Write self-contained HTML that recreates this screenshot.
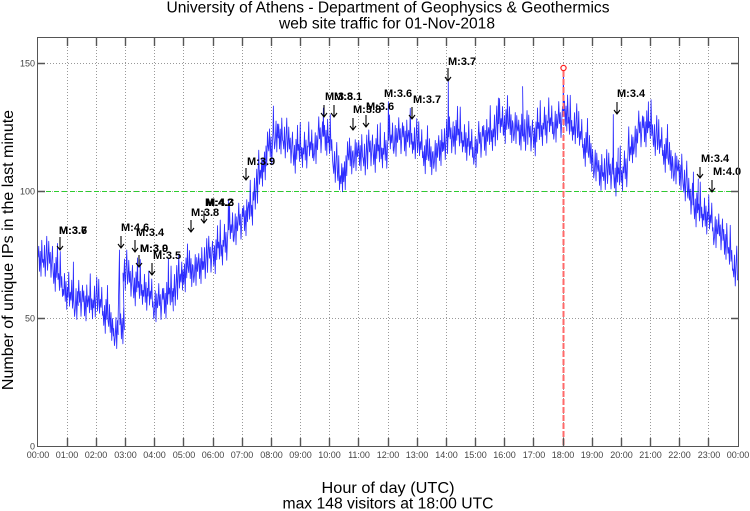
<!DOCTYPE html>
<html><head><meta charset="utf-8">
<style>
html,body{margin:0;padding:0;background:#fff;}
svg{display:block;font-family:"Liberation Sans",Arial,sans-serif;}
</style></head>
<body>
<svg width="750" height="511" viewBox="0 0 750 511" xmlns="http://www.w3.org/2000/svg">
<rect width="750" height="511" fill="#fff"/>

<!-- titles -->
<text x="388" y="12.5" font-size="15.5" text-anchor="middle" textLength="443" lengthAdjust="spacingAndGlyphs" fill="#000">University of Athens - Department of Geophysics &amp; Geothermics</text>
<text x="387" y="28.5" font-size="15.5" text-anchor="middle" textLength="216" lengthAdjust="spacingAndGlyphs" fill="#000">web site traffic for 01-Nov-2018</text>

<!-- grid -->
<g stroke="#999" stroke-width="1" stroke-dasharray="1,2" fill="none">
<path d="M67.5 38V446M96.5 38V446M125.5 38V446M154.5 38V446M183.5 38V446M213.5 38V446M242.5 38V446M271.5 38V446M300.5 38V446M329.5 38V446M358.5 38V446M388.5 38V446M417.5 38V446M446.5 38V446M475.5 38V446M504.5 38V446M533.5 38V446M563.5 38V446M592.5 38V446M621.5 38V446M650.5 38V446M679.5 38V446M708.5 38V446"/>
<path d="M38 63.5H738M38 318.5H738"/>
</g>
<path d="M38 191.5H738" stroke="#aaa" stroke-width="1" stroke-dasharray="1,2" stroke-dashoffset="1" fill="none"/>
<!-- green reference line -->
<path d="M38 191.5H738" stroke="#2ecc2e" stroke-width="1" stroke-dasharray="5,3" fill="none"/>

<!-- data -->
<path fill="none" stroke="#0000ff" stroke-width="0.85" stroke-opacity="0.82" stroke-linejoin="round" d="
M38,257.3 l.75,-11 .75,25 .75,-20 .75,25 .75,-36 .75,22
L43,259.3 l.75,8 .75,-22 .75,31 .75,-20 .75,-20 .75,34
L48,261.3 l.75,-20 .75,22 .75,-11 .75,25 .75,-17 .75,-14
L53,269.4 l.75,14 .75,-20 .75,28 .75,-34 .75,20 .75,-34
L58,279.5 l.75,-6 .75,17 .75,-39 .75,36 .75,-11 .75,20
L63,289.4 l.75,6 .75,-22 .75,28 .75,-20 .75,28 .75,-22
L68,297.2 l.75,-25 .75,34 .75,-14 .75,8 .75,-20 .75,28
L73,299.5 L73.4,262 L73.8,299.5 l.75,17 .75,-8 .75,-20 .75,31 .75,-28 .75,14
L78,300.3 l.75,-20 .75,22 .75,-11 .75,25 .75,-17 .75,-14
L83,301.9 l.75,-11 .75,25 .75,-20 .75,25 .75,-36 .75,22
L88,301.8 l.75,-6 .75,17 .75,-39 .75,36 .75,-11 .75,20
L93,300 l.75,8 .75,-22 .75,31 .75,-20 .75,-20 .75,34
L98,304.3 l.75,-25 .75,34 .75,-14 .75,8 .75,-20 .75,28
L103,311.4 l.75,14 .75,-20 .75,28 .75,-34 .75,20 .75,-34
L108,320.5 l.75,6 .75,-22 .75,28 .75,-20 .75,28 .75,-22
L113,328.6 L113.4,336 L113.7,328.6 l.75,17 .75,-8 .75,-20 .75,31 .75,-28 .75,14
L118,324.8 L119.5,250 L119.9,324.8 l.75,-11 .75,25 .75,-20 .75,25 .75,-36 .75,22
L123,273.1 l.75,8 .75,-22 .75,31 .75,-20 .75,-20 .75,34
L128,280.3 l.75,-20 .75,22 .75,-11 .75,25 .75,-17 .75,-14
L133,283.9 l.75,14 .75,-20 .75,28 .75,-34 .75,20 .75,-34
L138,287.5 l.75,-6 .75,17 .75,-39 .75,36 .75,-11 .75,20
L143,290.3 l.75,6 .75,-22 .75,28 .75,-20 .75,28 .75,-22
L148,296.1 l.75,-25 .75,34 .75,-14 .75,8 .75,-20 .75,28
L153,301.8 l.75,17 .75,-8 .75,-20 .75,31 .75,-28 .75,14
L158,303.6 l.75,-20 .75,22 .75,-11 .75,25 .75,-17 .75,-14
L163,299.3 l.75,-11 .75,25 .75,-20 .75,25 .75,-36 .75,22
L168,294 L168.4,258 L168.8,294 l.75,-6 .75,17 .75,-39 .75,36 .75,-11 .75,20
L173,288.4 l.75,8 .75,-22 .75,31 .75,-20 .75,-20 .75,34
L178,279.1 l.75,-25 .75,34 .75,-14 .75,8 .75,-20 .75,28
L183,269.9 l.75,14 .75,-20 .75,28 .75,-34 .75,20 .75,-34
L188,266.6 l.75,6 .75,-22 .75,28 .75,-20 .75,28 .75,-22
L193,265.5 l.75,17 .75,-8 .75,-20 .75,31 .75,-28 .75,14
L198,264.6 l.75,-11 .75,25 .75,-20 .75,25 .75,-36 .75,22
L203,261.5 l.75,8 .75,-22 .75,31 .75,-20 .75,-20 .75,34
L208,256.2 l.75,-20 .75,22 .75,-11 .75,25 .75,-17 .75,-14
L213,251.7 l.75,14 .75,-20 .75,28 .75,-34 .75,20 .75,-34
L218,248.1 l.75,-6 .75,17 .75,-39 .75,36 .75,-11 .75,20
L223,240.3 l.75,6 .75,-22 .75,28 .75,-20 .75,28 .75,-22
L228,229.7 L228.4,200 L228.8,229.7 l.75,-25 .75,34 .75,-14 .75,8 .75,-20 .75,28
L233,224.8 l.75,17 .75,-8 .75,-20 .75,31 .75,-28 .75,14
L238,223.2 l.75,-20 .75,22 .75,-11 .75,25 .75,-17 .75,-14
L243,216.7 l.75,-11 .75,25 .75,-20 .75,25 .75,-36 .75,22
L248,208.2 l.75,-6 .75,17 .75,-39 .75,36 .75,-11 .75,20
L253,192.2 l.75,8 .75,-22 .75,31 .75,-20 .75,-20 .75,34
L258,175.2 l.75,-25 .75,34 .75,-14 .75,8 .75,-20 .75,28
L263,157.9 l.75,14 .75,-20 .75,28 .75,-34 .75,20 .75,-34
L268,144.9 l.75,6 .75,-22 .75,28 .75,-20 .75,28 .75,-22
L273,132 L273.4,106 L273.8,132 l.75,17 .75,-8 .75,-20 .75,31 .75,-28 .75,14
L278,135 l.75,-11 .75,25 .75,-20 .75,25 .75,-36 .75,22
L283,141 l.75,8 .75,-22 .75,31 .75,-20 .75,-20 .75,34
L288,147.1 l.75,-20 .75,22 .75,-11 .75,25 .75,-17 .75,-14
L293,151.3 l.75,14 .75,-20 .75,28 .75,-34 .75,20 .75,-34
L298,150.4 l.75,-6 .75,17 .75,-39 .75,36 .75,-11 .75,20
L303,148.1 l.75,6 .75,-22 .75,28 .75,-20 .75,28 .75,-22
L308,146.9 l.75,-25 .75,34 .75,-14 .75,8 .75,-20 .75,28
L313,143.7 l.75,17 .75,-8 .75,-20 .75,31 .75,-28 .75,14
L318,136.8 l.75,-20 .75,22 .75,-11 .75,25 .75,-17 .75,-14
L323,136.3 L323.4,108 L323.8,136.3 l.75,-11 .75,25 .75,-20 .75,25 .75,-36 .75,22
L328,142.6 l.75,-6 .75,17 .75,-39 .75,36 .75,-11 .75,20
L333,165.4 l.75,8 .75,-22 .75,31 .75,-20 .75,-20 .75,34
L338,180.7 l.75,-25 .75,34 .75,-14 .75,8 .75,-20 .75,28
L343,167.7 l.75,14 .75,-20 .75,28 .75,-34 .75,20 .75,-34
L348,154 l.75,6 .75,-22 .75,28 .75,-20 .75,28 .75,-22
L353,150.7 l.75,17 .75,-8 .75,-20 .75,31 .75,-28 .75,14
L358,151.6 l.75,-11 .75,25 .75,-20 .75,25 .75,-36 .75,22
L363,158 l.75,8 .75,-22 .75,31 .75,-20 .75,-20 .75,34
L368,149.9 l.75,-20 .75,22 .75,-11 .75,25 .75,-17 .75,-14
L373,150.5 l.75,14 .75,-20 .75,28 .75,-34 .75,20 .75,-34
L378,150.9 l.75,-6 .75,17 .75,-39 .75,36 .75,-11 .75,20
L383,148.3 l.75,6 .75,-22 .75,28 .75,-20 .75,28 .75,-22
L388,139.9 L388.4,102 L388.8,139.9 l.75,-25 .75,34 .75,-14 .75,8 .75,-20 .75,28
L393,136.4 l.75,17 .75,-8 .75,-20 .75,31 .75,-28 .75,14
L398,137.7 l.75,-20 .75,22 .75,-11 .75,25 .75,-17 .75,-14
L403,137 l.75,-11 .75,25 .75,-20 .75,25 .75,-36 .75,22
L408,136.3 l.75,-6 .75,17 .75,-39 .75,36 .75,-11 .75,20
L413,141.7 l.75,8 .75,-22 .75,31 .75,-20 .75,-20 .75,34
L418,146.7 l.75,-25 .75,34 .75,-14 .75,8 .75,-20 .75,28
L423,151.7 l.75,14 .75,-20 .75,28 .75,-34 .75,20 .75,-34
L428,154.7 l.75,6 .75,-22 .75,28 .75,-20 .75,28 .75,-22
L433,151.4 l.75,17 .75,-8 .75,-20 .75,31 .75,-28 .75,14
L438,146.6 l.75,-11 .75,25 .75,-20 .75,25 .75,-36 .75,22
L443,142.6 l.75,8 .75,-22 .75,31 .75,-20 .75,-20 .75,34
L448,136.8 L448.3,79 L448.7,136.8 l.75,-20 .75,22 .75,-11 .75,25 .75,-17 .75,-14
L453,132.3 l.75,14 .75,-20 .75,28 .75,-34 .75,20 .75,-34
L458,135 l.75,-6 .75,17 .75,-39 .75,36 .75,-11 .75,20
L463,140.5 l.75,6 .75,-22 .75,28 .75,-20 .75,28 .75,-22
L468,146.3 l.75,-25 .75,34 .75,-14 .75,8 .75,-20 .75,28
L473,147.3 l.75,17 .75,-8 .75,-20 .75,31 .75,-28 .75,14
L478,141.4 l.75,-20 .75,22 .75,-11 .75,25 .75,-17 .75,-14
L483,136.4 l.75,-11 .75,25 .75,-20 .75,25 .75,-36 .75,22
L488,133.6 l.75,-6 .75,17 .75,-39 .75,36 .75,-11 .75,20
L493,128.9 l.75,8 .75,-22 .75,31 .75,-20 .75,-20 .75,34
L498,123.6 L498.4,98 L498.8,123.6 l.75,-25 .75,34 .75,-14 .75,8 .75,-20 .75,28
L503,121.5 l.75,14 .75,-20 .75,28 .75,-34 .75,20 .75,-34
L508,122.7 l.75,6 .75,-22 .75,28 .75,-20 .75,28 .75,-22
L513,123.6 l.75,17 .75,-8 .75,-20 .75,31 .75,-28 .75,14
L518,131.1 l.75,-11 .75,25 .75,-20 .75,25 .75,-36 .75,22
L523,133.5 L522.6,86.5 L523.3,133.5 l.75,8 .75,-22 .75,31 .75,-20 .75,-20 .75,34
L528,135.1 l.75,-20 .75,22 .75,-11 .75,25 .75,-17 .75,-14
L533,133.9 l.75,14 .75,-20 .75,28 .75,-34 .75,20 .75,-34
L538,128.6 l.75,-6 .75,17 .75,-39 .75,36 .75,-11 .75,20
L543,123.1 l.75,6 .75,-22 .75,28 .75,-20 .75,28 .75,-22
L548,122.8 l.75,-25 .75,34 .75,-14 .75,8 .75,-20 .75,28
L553,122.2 l.75,17 .75,-8 .75,-20 .75,31 .75,-28 .75,14
L558,121.6 l.75,-20 .75,22 .75,-11 .75,25 .75,-17 .75,-14
L563,112 L563.4,68.6 L563.8,112 l.75,-11 .75,25 .75,-20 .75,25 .75,-36 .75,22
L568,123.3 l.75,-6 .75,17 .75,-39 .75,36 .75,-11 .75,20
L573,126.7 l.75,8 .75,-22 .75,31 .75,-20 .75,-20 .75,34
L578,136.4 l.75,-25 .75,34 .75,-14 .75,8 .75,-20 .75,28
L583,144.4 l.75,14 .75,-20 .75,28 .75,-34 .75,20 .75,-34
L588,151.4 l.75,6 .75,-22 .75,28 .75,-20 .75,28 .75,-22
L593,161 l.75,17 .75,-8 .75,-20 .75,31 .75,-28 .75,14
L598,171.4 l.75,-11 .75,25 .75,-20 .75,25 .75,-36 .75,22
L603,172.6 l.75,8 .75,-22 .75,31 .75,-20 .75,-20 .75,34
L608,173 l.75,-20 .75,22 .75,-11 .75,25 .75,-17 .75,-14
L613,174.1 L613.3,114.5 L613.7,174.1 l.75,14 .75,-20 .75,28 .75,-34 .75,20 .75,-34
L618,173.9 l.75,-6 .75,17 .75,-39 .75,36 .75,-11 .75,20
L623,166.8 l.75,6 .75,-22 .75,28 .75,-20 .75,28 .75,-22
L628,151.8 l.75,-25 .75,34 .75,-14 .75,8 .75,-20 .75,28
L633,137.1 l.75,17 .75,-8 .75,-20 .75,31 .75,-28 .75,14
L638,130.9 l.75,-20 .75,22 .75,-11 .75,25 .75,-17 .75,-14
L643,127.8 l.75,-11 .75,25 .75,-20 .75,25 .75,-36 .75,22
L648,127.7 L648.4,101.8 L648.8,127.7 l.75,-6 .75,17 .75,-39 .75,36 .75,-11 .75,20
L653,138.6 l.75,8 .75,-22 .75,31 .75,-20 .75,-20 .75,34
L658,144.5 l.75,-25 .75,34 .75,-14 .75,8 .75,-20 .75,28
L663,150.4 l.75,14 .75,-20 .75,28 .75,-34 .75,20 .75,-34
L668,158.4 l.75,6 .75,-22 .75,28 .75,-20 .75,28 .75,-22
L673,164 l.75,17 .75,-8 .75,-20 .75,31 .75,-28 .75,14
L678,171 l.75,-11 .75,25 .75,-20 .75,25 .75,-36 .75,22
L683,184 l.75,8 .75,-22 .75,31 .75,-20 .75,-20 .75,34
L688,198.2 l.75,-20 .75,22 .75,-11 .75,25 .75,-17 .75,-14
L693,204.9 L693.4,172 L693.8,204.9 l.75,14 .75,-20 .75,28 .75,-34 .75,20 .75,-34
L698,210 l.75,-6 .75,17 .75,-39 .75,36 .75,-11 .75,20
L703,214.1 l.75,6 .75,-22 .75,28 .75,-20 .75,28 .75,-22
L708,220 l.75,-25 .75,34 .75,-14 .75,8 .75,-20 .75,28
L713,227.7 l.75,17 .75,-8 .75,-20 .75,31 .75,-28 .75,14
L718,233.9 l.75,-20 .75,22 .75,-11 .75,25 .75,-17 .75,-14
L723,240.4 l.75,-11 .75,25 .75,-20 .75,25 .75,-36 .75,22
L728,253.3 l.75,-6 .75,17 .75,-39 .75,36 .75,-11 .75,20
L733,269 l.75,8 .75,-22 .75,31 .75,-20 .75,-20 .75,34
L738,279.2"/>

<!-- max marker -->
<path d="M563.5 71V446" stroke="#ff6a6a" stroke-width="2" stroke-dasharray="6,2" fill="none"/>
<circle cx="563.5" cy="68" r="2.6" fill="#fff" stroke="#ff2020" stroke-width="1.2"/>

<!-- annotation arrows -->
<g stroke="#000" stroke-width="1.1" fill="none">
<path d="M60 237V250M57 246L60 250L63 246"/>
<path d="M121 236V248M118 244L121 248L124 244"/>
<path d="M135 240V252M132 248L135 252L138 248"/>
<path d="M139 255V267M136 263L139 267L142 263"/>
<path d="M152 263V275M149 271L152 275L155 271"/>
<path d="M191 220V232M188 228L191 232L194 228"/>
<path d="M204 211V223M201 219L204 223L207 219"/>
<path d="M246 168V180M243 176L246 180L249 176"/>
<path d="M324 105V117M321 113L324 117L327 113"/>
<path d="M334 105V117M331 113L334 117L337 113"/>
<path d="M353 118V130M350 126L353 130L356 126"/>
<path d="M366 115V127M363 123L366 127L369 123"/>
<path d="M412 107V119M409 115L412 119L415 115"/>
<path d="M448 68V81M445 77L448 81L451 77"/>
<path d="M617 102V114M614 110L617 114L620 110"/>
<path d="M700 167V178M697 174L700 178L703 174"/>
<path d="M712 180V192M709 188L712 192L715 188"/>
</g>
<!-- annotation labels -->
<g font-size="11" font-weight="bold" fill="#000">
<text x="59" y="234">M:3.6</text><text x="59" y="234">M:3.7</text>
<text x="121" y="231">M:4.6</text>
<text x="136" y="236">M:3.4</text>
<text x="140" y="252">M:3.0</text><text x="140" y="252">M:3.9</text>
<text x="153" y="259">M:3.5</text>
<text x="191" y="216">M:3.8</text>
<text x="205" y="206">M:4.2</text><text x="206" y="206">M:4.3</text>
<text x="247" y="165">M:3.9</text>
<text x="325" y="100">M:3.8</text><text x="334" y="100">M:3.1</text>
<text x="353" y="113">M:3.8</text><text x="366" y="110">M:3.6</text>
<text x="384" y="97">M:3.6</text>
<text x="413" y="103">M:3.7</text>
<text x="448" y="65">M:3.7</text>
<text x="617" y="97">M:3.4</text>
<text x="701" y="162">M:3.4</text>
<text x="713" y="175">M:4.0</text>
</g>

<!-- frame and ticks -->
<rect x="37.5" y="37.5" width="701" height="409" fill="none" stroke="#555" stroke-width="1"/>
<g stroke="#555" stroke-width="1.4" fill="none">
<path d="M67.5 446V438M96.5 446V438M125.5 446V438M154.5 446V438M183.5 446V438M213.5 446V438M242.5 446V438M271.5 446V438M300.5 446V438M329.5 446V438M358.5 446V438M388.5 446V438M417.5 446V438M446.5 446V438M475.5 446V438M504.5 446V438M533.5 446V438M563.5 446V438M592.5 446V438M621.5 446V438M650.5 446V438M679.5 446V438M708.5 446V438"/>
<path d="M67.5 38V46M96.5 38V46M125.5 38V46M154.5 38V46M183.5 38V46M213.5 38V46M242.5 38V46M271.5 38V46M300.5 38V46M329.5 38V46M358.5 38V46M388.5 38V46M417.5 38V46M446.5 38V46M475.5 38V46M504.5 38V46M533.5 38V46M563.5 38V46M592.5 38V46M621.5 38V46M650.5 38V46M679.5 38V46M708.5 38V46"/>
<path d="M38 63.5H45M38 191.5H45M38 318.5H45M738 63.5H731M738 191.5H731M738 318.5H731"/>
</g>

<!-- y tick labels -->
<g font-size="9" fill="#444" text-anchor="end">
<text x="35" y="66.5">150</text>
<text x="35" y="194.5">100</text>
<text x="35" y="321.5">50</text>
<text x="35" y="449.5">0</text>
</g>
<!-- x tick labels -->
<g font-size="9" fill="#444" text-anchor="middle">
<text x="38" y="458">00:00</text><text x="67" y="458">01:00</text><text x="96" y="458">02:00</text><text x="125.5" y="458">03:00</text>
<text x="154.5" y="458">04:00</text><text x="184" y="458">05:00</text><text x="213" y="458">06:00</text><text x="242" y="458">07:00</text>
<text x="271.5" y="458">08:00</text><text x="300.5" y="458">09:00</text><text x="329.5" y="458">10:00</text><text x="359" y="458">11:00</text>
<text x="388" y="458">12:00</text><text x="417" y="458">13:00</text><text x="446.5" y="458">14:00</text><text x="475.5" y="458">15:00</text>
<text x="504.5" y="458">16:00</text><text x="534" y="458">17:00</text><text x="563" y="458">18:00</text><text x="592" y="458">19:00</text>
<text x="621.5" y="458">20:00</text><text x="650.5" y="458">21:00</text><text x="679.5" y="458">22:00</text><text x="709" y="458">23:00</text>
<text x="738" y="458">00:00</text>
</g>

<!-- axis labels -->
<text x="388" y="493" font-size="16" text-anchor="middle" textLength="133" lengthAdjust="spacingAndGlyphs" fill="#000">Hour of day (UTC)</text>
<text x="388" y="508.5" font-size="15.5" text-anchor="middle" textLength="211" lengthAdjust="spacingAndGlyphs" fill="#000">max 148 visitors at 18:00 UTC</text>
<text transform="translate(13,250) rotate(-90)" font-size="16" text-anchor="middle" fill="#000">Number of unique IPs in the last minute</text>
</svg>
</body></html>
